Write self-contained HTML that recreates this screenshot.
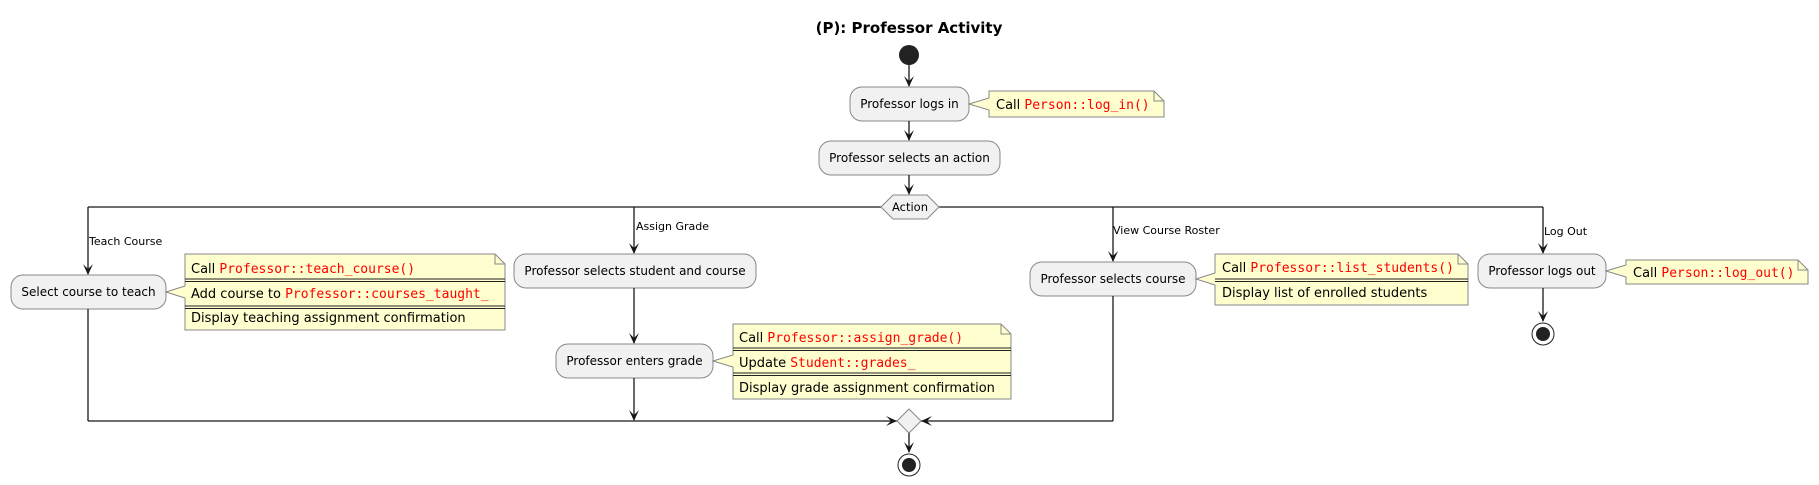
<!DOCTYPE html>
<html><head><meta charset="utf-8"><style>
html,body{margin:0;padding:0;background:#fff;}
svg{display:block;}
text{font-family:"DejaVu Sans","Liberation Sans",sans-serif;fill:#000;}
.b{font-size:12px;}
.n{font-size:13px;}
.m{font-family:"DejaVu Sans Mono","Liberation Mono",monospace;fill:#ff0000;}
.l{font-size:11px;}
.box{fill:#f1f1f1;stroke:#888;stroke-width:1;}
.note{fill:#fefece;stroke:#888;stroke-width:1;}
.ln{stroke:#181818;stroke-width:1.3;fill:none;}
.ah{fill:#181818;stroke:none;}
</style></head><body>
<svg width="1819" height="485" viewBox="0 0 1819 485" xmlns="http://www.w3.org/2000/svg">
<defs>
<path id="ad" d="M0,0 L-5,-11 L0,-6 L5,-11 Z"/>
<path id="ar" d="M0,0 L-11,-5 L-6,0 L-11,5 Z"/>
<path id="al" d="M0,0 L11,-5 L6,0 L11,5 Z"/>
</defs>
<text x="909" y="33" text-anchor="middle" style="font-size:15px;font-weight:bold">(P): Professor Activity</text>

<circle cx="909" cy="55" r="10" fill="#222"/>
<line class="ln" x1="909" y1="65" x2="909" y2="86"/>
<use href="#ad" x="909" y="87" class="ah"/>
<rect class="box" x="850" y="87" width="119" height="34" rx="12"/>
<text class="b" x="909.5" y="108" text-anchor="middle">Professor logs in</text>
<path class="note" d="M969,104 L989,98 L989,91 L1154,91 L1164,101 L1164,117 L989,117 L989,110 Z"/>
<path d="M1154,91 L1154,101 L1164,101" fill="none" stroke="#888"/>
<text class="n" x="996" y="109">Call <tspan class="m">Person::log_in()</tspan></text>

<line class="ln" x1="909" y1="121" x2="909" y2="140"/>
<use href="#ad" x="909" y="141" class="ah"/>
<rect class="box" x="819" y="141" width="181" height="34" rx="12"/>
<text class="b" x="909.5" y="162" text-anchor="middle">Professor selects an action</text>
<line class="ln" x1="909" y1="175" x2="909" y2="194"/>
<use href="#ad" x="909" y="195" class="ah"/>

<line class="ln" x1="88" y1="207" x2="881" y2="207"/>
<line class="ln" x1="939" y1="207" x2="1543" y2="207"/>
<polygon points="881,207 893,195 927,195 939,207 927,219 893,219" class="box"/>
<text class="b" x="910" y="211" text-anchor="middle" style="font-size:11.5px">Action</text>

<line class="ln" x1="88" y1="207" x2="88" y2="274"/>
<use href="#ad" x="88" y="275" class="ah"/>
<text class="l" x="89" y="245">Teach Course</text>
<rect class="box" x="11" y="275" width="155" height="34" rx="12"/>
<text class="b" x="88.5" y="296" text-anchor="middle">Select course to teach</text>
<path class="note" d="M166,292 L185,286 L185,254 L495,254 L505,264 L505,330 L185,330 L185,298 Z"/>
<path d="M495,254 L495,264 L505,264" fill="none" stroke="#888"/>
<line x1="185" y1="279" x2="505" y2="279" stroke="#222"/><line x1="185" y1="281.5" x2="505" y2="281.5" stroke="#222"/>
<line x1="185" y1="306" x2="505" y2="306" stroke="#222"/><line x1="185" y1="308.5" x2="505" y2="308.5" stroke="#222"/>
<text class="n" x="191" y="273">Call <tspan class="m">Professor::teach_course()</tspan></text>
<text class="n" x="191" y="298">Add course to <tspan class="m">Professor::courses_taught_</tspan></text>
<text class="n" x="191" y="322">Display teaching assignment confirmation</text>
<line class="ln" x1="88" y1="309" x2="88" y2="421"/>
<line class="ln" x1="88" y1="421" x2="897" y2="421"/>
<use href="#ar" x="897" y="421" class="ah"/>

<line class="ln" x1="634" y1="207" x2="634" y2="253"/>
<use href="#ad" x="634" y="254" class="ah"/>
<text class="l" x="636" y="230">Assign Grade</text>
<rect class="box" x="514" y="254" width="242" height="34" rx="12"/>
<text class="b" x="635" y="275" text-anchor="middle">Professor selects student and course</text>
<line class="ln" x1="634" y1="288" x2="634" y2="343"/>
<use href="#ad" x="634" y="344" class="ah"/>
<rect class="box" x="556" y="344" width="157" height="34" rx="12"/>
<text class="b" x="634.5" y="365" text-anchor="middle">Professor enters grade</text>
<path class="note" d="M713,361 L733,355 L733,324 L1001,324 L1011,334 L1011,399 L733,399 L733,367 Z"/>
<path d="M1001,324 L1001,334 L1011,334" fill="none" stroke="#888"/>
<line x1="733" y1="348" x2="1011" y2="348" stroke="#222"/><line x1="733" y1="350.5" x2="1011" y2="350.5" stroke="#222"/>
<line x1="733" y1="373" x2="1011" y2="373" stroke="#222"/><line x1="733" y1="375.5" x2="1011" y2="375.5" stroke="#222"/>
<text class="n" x="739" y="342">Call <tspan class="m">Professor::assign_grade()</tspan></text>
<text class="n" x="739" y="367">Update <tspan class="m">Student::grades_</tspan></text>
<text class="n" x="739" y="392">Display grade assignment confirmation</text>
<line class="ln" x1="634" y1="378" x2="634" y2="420"/>
<use href="#ad" x="634" y="421" class="ah"/>

<line class="ln" x1="1113" y1="207" x2="1113" y2="261"/>
<use href="#ad" x="1113" y="262" class="ah"/>
<text class="l" x="1113" y="234">View Course Roster</text>
<rect class="box" x="1030" y="262" width="166" height="34" rx="12"/>
<text class="b" x="1113" y="283" text-anchor="middle">Professor selects course</text>
<path class="note" d="M1196,279 L1215,273 L1215,254 L1458,254 L1468,264 L1468,305 L1215,305 L1215,285 Z"/>
<path d="M1458,254 L1458,264 L1468,264" fill="none" stroke="#888"/>
<line x1="1215" y1="279" x2="1468" y2="279" stroke="#222"/><line x1="1215" y1="281.5" x2="1468" y2="281.5" stroke="#222"/>
<text class="n" x="1222" y="272">Call <tspan class="m">Professor::list_students()</tspan></text>
<text class="n" x="1222" y="297">Display list of enrolled students</text>
<line class="ln" x1="1113" y1="296" x2="1113" y2="421"/>
<line class="ln" x1="1113" y1="421" x2="921" y2="421"/>
<use href="#al" x="921" y="421" class="ah"/>

<polygon points="909,409 921,421 909,433 897,421" class="box"/>
<line class="ln" x1="909" y1="433" x2="909" y2="452"/>
<use href="#ad" x="909" y="453" class="ah"/>
<circle cx="909" cy="465" r="11" fill="#fff" stroke="#222" stroke-width="1"/>
<circle cx="909" cy="465" r="7" fill="#222"/>

<line class="ln" x1="1543" y1="207" x2="1543" y2="253"/>
<use href="#ad" x="1543" y="254" class="ah"/>
<text class="l" x="1544" y="235">Log Out</text>
<rect class="box" x="1478" y="254" width="128" height="34" rx="12"/>
<text class="b" x="1542" y="275" text-anchor="middle">Professor logs out</text>
<path class="note" d="M1606,271 L1626,265 L1626,260 L1798,260 L1808,270 L1808,284 L1626,284 L1626,277 Z"/>
<path d="M1798,260 L1798,270 L1808,270" fill="none" stroke="#888"/>
<text class="n" x="1633" y="277">Call <tspan class="m">Person::log_out()</tspan></text>
<line class="ln" x1="1543" y1="288" x2="1543" y2="321"/>
<use href="#ad" x="1543" y="322" class="ah"/>
<circle cx="1543" cy="334" r="11" fill="#fff" stroke="#222" stroke-width="1"/>
<circle cx="1543" cy="334" r="7" fill="#222"/>
</svg>
</body></html>
